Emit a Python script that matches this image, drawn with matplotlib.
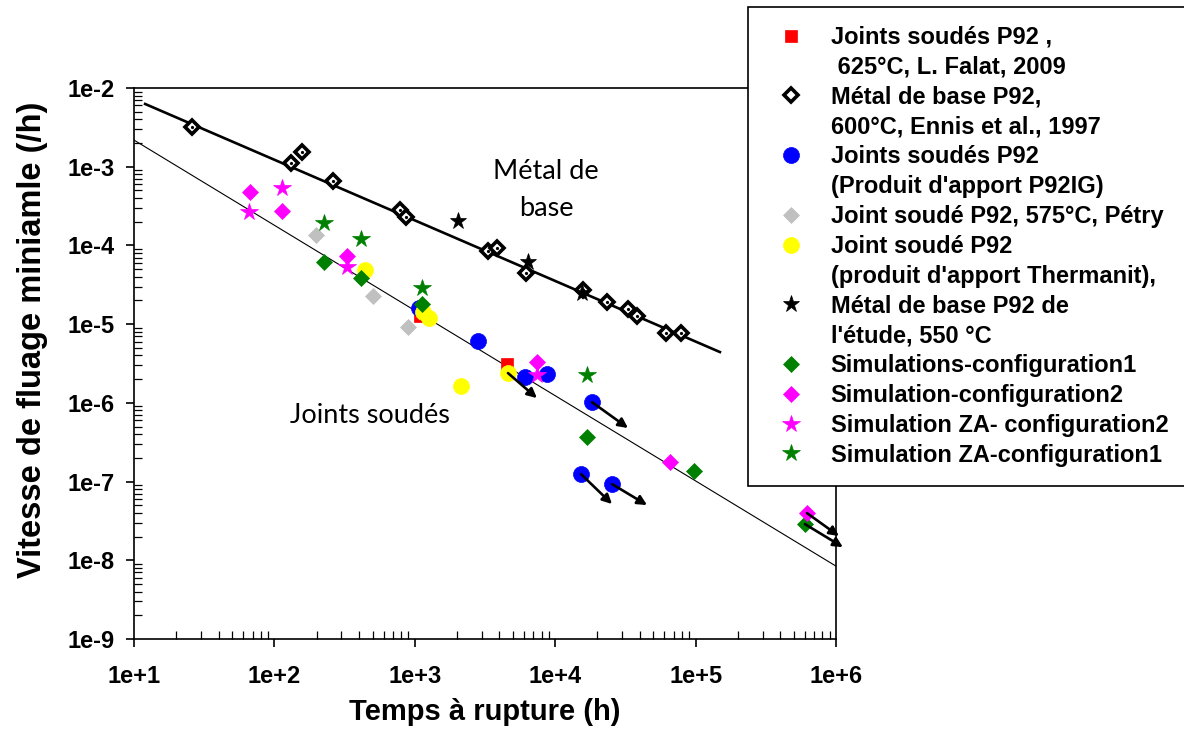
import matplotlib
matplotlib.use("Agg")
import matplotlib.pyplot as plt
from matplotlib.lines import Line2D
from matplotlib.ticker import FixedLocator, LogLocator, NullFormatter

# ---------------- data ----------------
# Joints soudés P92, 625°C, L. Falat, 2009
falat_t = [4540, 1090]
falat_v = [3.11e-6, 1.27e-5]

# Métal de base P92, 600°C, Ennis et al., 1997
ennis_t = [25.9, 131, 157, 261, 785, 866, 3320, 3850, 6190, 15800, 23400, 33000, 38300, 61500, 78700]
ennis_v = [3.19e-3, 1.11e-3, 1.54e-3, 6.58e-4, 2.82e-4, 2.30e-4, 8.49e-5, 9.27e-5, 4.46e-5,
           2.71e-5, 1.91e-5, 1.56e-5, 1.27e-5, 7.71e-6, 7.71e-6]

# Joints soudés P92 (Produit d'apport P92IG)
p92ig_t = [1070, 2820, 6100, 8740, 18300, 15300, 25400]
p92ig_v = [1.60e-5, 6.10e-6, 2.13e-6, 2.32e-6, 1.02e-6, 1.24e-7, 9.29e-8]

# Joint soudé P92, 575°C, Pétry
petry_t = [198, 503, 895]
petry_v = [1.36e-4, 2.28e-5, 9.18e-6]

# Joint soudé P92 (produit d'apport Thermanit)
therm_t = [442, 1143, 1262, 2130, 4610]
therm_v = [4.86e-5, 1.43e-5, 1.20e-5, 1.63e-6, 2.39e-6]

# Métal de base P92 de l'étude, 550 °C
etude_t = [2030, 6400, 15500]
etude_v = [2.04e-4, 6.15e-5, 2.48e-5]

# Simulations-configuration1
sim1_t = [225, 414, 1125, 16800, 97500, 601000]
sim1_v = [6.15e-5, 3.85e-5, 1.80e-5, 3.67e-7, 1.36e-7, 2.88e-8]

# Simulation-configuration2
sim2_t = [67.0, 113, 329, 7410, 65800, 621000]
sim2_v = [4.78e-4, 2.74e-4, 7.33e-5, 3.30e-6, 1.77e-7, 3.98e-8]

# Simulation ZA- configuration2
za2_t = [113, 65.9, 329, 7410]
za2_v = [5.36e-4, 2.65e-4, 5.32e-5, 2.26e-6]

# Simulation ZA-configuration1
za1_t = [225, 414, 1125, 16800]
za1_v = [1.93e-4, 1.20e-4, 2.88e-5, 2.26e-6]

# trend lines (end points)
base_line_t = [12.0, 149000]
base_line_v = [6.27e-3, 4.42e-6]
joint_line_t = [10, 1e6]
joint_line_v = [2.18e-3, 8.43e-9]

# arrows (start -> end)
arrow_start_t = [4610, 18300, 15300, 25400, 621000, 601000]
arrow_start_v = [2.39e-6, 1.02e-6, 1.24e-7, 9.29e-8, 3.98e-8, 2.88e-8]
arrow_end_t = [7410, 33000, 25400, 45100, 1.05e6, 1.12e6]
arrow_end_v = [1.15e-6, 4.79e-7, 5.18e-8, 5.03e-8, 2.03e-8, 1.47e-8]

x_ticks = [1e1, 1e2, 1e3, 1e4, 1e5, 1e6]
x_tick_labels = ["1e+1", "1e+2", "1e+3", "1e+4", "1e+5", "1e+6"]
y_ticks = [1e-9, 1e-8, 1e-7, 1e-6, 1e-5, 1e-4, 1e-3, 1e-2]
y_tick_labels = ["1e-9", "1e-8", "1e-7", "1e-6", "1e-5", "1e-4", "1e-3", "1e-2"]

legend_labels = [
    ["Joints soudés P92 ,", " 625°C, L. Falat, 2009"],
    ["Métal de base P92,", "600°C, Ennis et al., 1997"],
    ["Joints soudés P92", "(Produit d'apport P92IG)"],
    ["Joint soudé P92, 575°C, Pétry"],
    ["Joint soudé P92", "(produit d'apport Thermanit),"],
    ["Métal de base P92 de", "l'étude, 550 °C"],
    ["Simulations-configuration1"],
    ["Simulation-configuration2"],
    ["Simulation ZA- configuration2"],
    ["Simulation ZA-configuration1"],
]

# ---------------- figure ----------------
W, H = 1184, 731
fig = plt.figure(figsize=(W / 100, H / 100), dpi=100)
ax = fig.add_axes([134 / W, 1 - 639 / H, (836 - 134) / W, (639 - 88) / H])
ax.set_xscale("log")
ax.set_yscale("log")
ax.set_xlim(1e1, 1e6)
ax.set_ylim(1e-9, 1e-2)

ax.plot(base_line_t, base_line_v, color="black", lw=1.9, zorder=2)
ax.plot(joint_line_t, joint_line_v, color="black", lw=0.8, zorder=2)

styles = [
    dict(marker="s", color="#FF0000", ms=9.0, mec="#FF0000"),
    dict(marker="D", color="white", ms=7.0, mec="black", mew=2.6),
    dict(marker="o", color="#0000FF", ms=11.5, mec="#0000FF"),
    dict(marker="D", color="#C0C0C0", ms=8.5, mec="#C0C0C0"),
    dict(marker="o", color="#FFFF00", ms=11.5, mec="#FFFF00"),
    dict(marker="*", color="black", ms=12.5, mec="black"),
    dict(marker="D", color="#008000", ms=8.5, mec="#008000"),
    dict(marker="D", color="#FF00FF", ms=8.5, mec="#FF00FF"),
    dict(marker="*", color="#FF00FF", ms=13.0, mec="#FF00FF"),
    dict(marker="*", color="#008000", ms=13.0, mec="#008000"),
]
series = [
    (falat_t, falat_v), (ennis_t, ennis_v), (p92ig_t, p92ig_v), (petry_t, petry_v),
    (therm_t, therm_v), (etude_t, etude_v), (sim1_t, sim1_v), (sim2_t, sim2_v),
    (za2_t, za2_v), (za1_t, za1_v),
]
for i, ((t, v), st) in enumerate(zip(series, styles)):
    ax.plot(t, v, linestyle="none", marker=st["marker"], markerfacecolor=st["color"],
            markeredgecolor=st["mec"], markersize=st["ms"], markeredgewidth=st.get("mew", 0.5),
            zorder=3 + i * 0.1)
# small dot in the open diamonds
ax.plot(ennis_t, ennis_v, linestyle="none", marker="o", ms=1.3, color="black", zorder=3.15)

for ts, vs, te, ve in zip(arrow_start_t, arrow_start_v, arrow_end_t, arrow_end_v):
    ax.annotate("", xy=(te, ve), xytext=(ts, vs), annotation_clip=False,
                arrowprops=dict(arrowstyle="-|>", color="black", lw=1.9, mutation_scale=14,
                                shrinkA=0, shrinkB=0), zorder=6)

ax.text(8590, 5.06e-4, "Métal de\nbase", ha="center", va="center", fontsize=19.5,
        family="Lato", linespacing=1.6, zorder=5)
ax.text(480, 7.0e-7, "Joints soudés", ha="center", va="center", fontsize=19.5,
        family="Lato", zorder=5)

# axes styling
for sp in ax.spines.values():
    sp.set_linewidth(1.2)
    sp.set_color("black")
ax.xaxis.set_major_locator(FixedLocator(x_ticks))
ax.yaxis.set_major_locator(FixedLocator(y_ticks))
ax.set_xticklabels(x_tick_labels)
ax.set_yticklabels(y_tick_labels)
ax.xaxis.set_minor_locator(LogLocator(base=10, subs=range(2, 10), numticks=20))
ax.yaxis.set_minor_locator(LogLocator(base=10, subs=range(2, 10), numticks=20))
ax.xaxis.set_minor_formatter(NullFormatter())
ax.yaxis.set_minor_formatter(NullFormatter())
ax.tick_params(which="major", direction="out", length=6, width=1.2, top=False, right=False)
ax.tick_params(which="minor", direction="in", length=6, width=0.9, top=False, right=False)
ax.tick_params(axis="x", which="major", pad=13)
ax.tick_params(axis="y", which="major", pad=8)
for lab in ax.get_xticklabels() + ax.get_yticklabels():
    lab.set_fontfamily("Liberation Sans")
    lab.set_fontweight("bold")
    lab.set_fontsize(17)

ax.set_xlabel("Temps à rupture (h)", fontsize=21, fontweight="bold",
              family="Liberation Sans", labelpad=7)
ax.set_ylabel("Vitesse de fluage miniamle (/h)", fontsize=23.5, fontweight="bold",
              family="Liberation Sans")
ax.yaxis.set_label_coords(-0.122, 0.543)

# legend
handles, labels = [], []
for st, labs in zip(styles, legend_labels):
    handles.append(Line2D([], [], linestyle="none", marker=st["marker"],
                          markerfacecolor=st["color"], markeredgecolor=st["mec"],
                          markersize=st["ms"], markeredgewidth=st.get("mew", 0.5)))
    labels.append(labs[0])
    for extra in labs[1:]:
        handles.append(Line2D([], [], linestyle="none"))
        labels.append(extra)

leg = ax.legend(handles, labels, loc="upper left", bbox_to_anchor=(748 / W, 1 - 7 / H),
                bbox_transform=fig.transFigure, borderaxespad=0, frameon=True,
                fancybox=False, framealpha=1, edgecolor="black", numpoints=1,
                prop=dict(family="Liberation Sans", weight="bold", size=17),
                labelspacing=0.29, borderpad=0.8, handlelength=2.0, handletextpad=0.7)
leg.get_frame().set_linewidth(1.2)
leg.set_zorder(10)

fig.savefig("out.png", dpi=100)
